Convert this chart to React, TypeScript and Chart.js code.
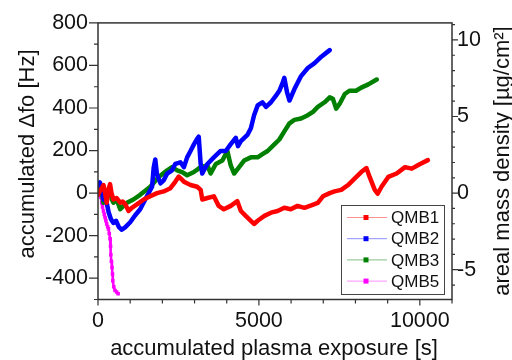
import React, { useEffect, useRef } from "react";
import { Chart, registerables } from "chart.js";

Chart.register(...registerables);

// ---------- data ----------
const QMB1_X = [0, 60, 115, 170, 220, 270, 330, 375, 420, 480, 580, 690, 770, 850, 950, 1050, 1210, 1420, 1625, 1835, 2040, 2250, 2400, 2510, 2600, 2670, 2875, 3080, 3190, 3240, 3400, 3600, 3750, 3910, 4125, 4330, 4440, 4590, 4750, 4850, 4960, 5170, 5375, 5580, 5790, 5990, 6200, 6415, 6625, 6830, 6990, 7200, 7350, 7560, 7770, 7980, 8180, 8340, 8440, 8600, 8690, 8810, 9020, 9280, 9540, 9750, 10010, 10250];
const QMB1_Y = [-8, 10, 23, 38, 0, -45, 20, 42, 0, -30, -23, -45, -40, -53, -84, -69, -53, -30, -15, 0, 8, 23, 53, 78, 65, 53, 38, 30, 15, -30, -23, -15, -60, -76, -60, -38, -84, -107, -130, -145, -130, -107, -92, -84, -69, -76, -60, -69, -58, -46, -15, 0, 8, 15, 38, 69, 99, 118, 76, 15, -3, 30, 76, 92, 122, 115, 137, 155];

const QMB2_X = [0, 60, 115, 170, 220, 270, 330, 400, 480, 560, 650, 740, 850, 1000, 1150, 1310, 1520, 1680, 1730, 1780, 1830, 1940, 2040, 2150, 2300, 2400, 2560, 2670, 2770, 2875, 2980, 3080, 3130, 3190, 3240, 3290, 3400, 3600, 3810, 3970, 4120, 4280, 4350, 4440, 4650, 4750, 4850, 4960, 5110, 5220, 5375, 5530, 5635, 5740, 5790, 5875, 5950, 6100, 6310, 6520, 6730, 6940, 7200];
const QMB2_Y = [38, 50, 20, -30, -10, -45, -90, -122, -140, -130, -160, -172, -160, -137, -105, -76, -15, 30, 120, 158, 90, 46, 60, 92, 107, 137, 145, 122, 168, 198, 229, 255, 265, 137, 92, 107, 137, 168, 198, 198, 229, 260, 221, 244, 275, 305, 366, 412, 427, 405, 427, 458, 481, 519, 542, 473, 435, 488, 550, 588, 611, 641, 672];

const QMB3_X = [0, 60, 115, 170, 220, 270, 330, 375, 430, 480, 580, 690, 790, 900, 1100, 1310, 1625, 1885, 2150, 2300, 2460, 2615, 2770, 2980, 3190, 3400, 3500, 3660, 3865, 4020, 4125, 4230, 4385, 4540, 4750, 4960, 5110, 5270, 5480, 5635, 5790, 5950, 6100, 6310, 6520, 6680, 6830, 7040, 7200, 7300, 7400, 7510, 7670, 7810, 8020, 8180, 8400, 8660];
const QMB3_Y = [23, 45, 10, -45, -10, 8, 15, 10, -30, -45, -30, -76, -60, -45, -30, -8, 30, 76, 107, 122, 107, 99, 84, 99, 122, 130, 92, 137, 153, 198, 130, 92, 122, 153, 168, 168, 183, 198, 229, 252, 290, 328, 344, 351, 366, 382, 405, 427, 450, 443, 397, 420, 466, 481, 481, 496, 511, 534];

const QMB5_X = [0, 30, 60, 90, 115, 140, 170, 195, 220, 245, 270, 300, 325, 350, 375, 390, 400, 415, 435, 450, 460, 490, 530, 580, 625];
const QMB5_Y = [0, -1, -3, -20, -45, -65, -84, -100, -115, -130, -145, -158, -168, -190, -214, -250, -290, -320, -350, -380, -412, -440, -458, -465, -473];

const SERIES_NAMES = ["QMB1", "QMB2", "QMB3", "QMB5"];
const SERIES_COLORS = ["#ff0000", "#0000ff", "#008000", "#ff00ff"];
const LEGEND_LINE_COLORS = ["#ff9090", "#8f8fff", "#80c080", "#ff90ff"];

const X_MIN = 0;
const X_MAX = 11000;
const X_LABEL_TICKS = [0, 5000, 10000];
const X_MINOR_TICKS = [1000, 2000, 3000, 4000, 6000, 7000, 8000, 9000, 11000];
const Y_MIN = -500;
const Y_MAX = 800;
const Y_LABEL_TICKS = [-400, -200, 0, 200, 400, 600, 800];
const Y_MINOR_TICKS = [-500, -300, -100, 100, 300, 500, 700];
const HZ_PER_UG_CM2 = 72;
const Y2_LABEL_TICKS = [-5, 0, 5, 10];
const Y2_MINOR_TICKS = [-6, -4, -3, -2, -1, 1, 2, 3, 4, 6, 7, 8, 9, 11];

const X_TITLE = "accumulated plasma exposure [s]";
const Y_TITLE = "accumulated \u0394fo [Hz]";
const Y2_TITLE = "areal mass density [\u00b5g/cm\u00b2]";

const FONT = "'Liberation Sans', Arial, sans-serif";
const AXIS_COLOR = "#333333";

const toPoints = (xs: number[], ys: number[]) => xs.map((x, i) => ({ x, y: ys[i] }));

export default function App() {
  const ref = useRef<HTMLCanvasElement | null>(null);

  useEffect(() => {
    const canvas = ref.current;
    if (!canvas) return;

    const decorPlugin = {
      id: "decor",
      afterDraw(chart: any) {
        const ctx = chart.ctx as CanvasRenderingContext2D;
        const a = chart.chartArea;
        const xs = chart.scales.x;
        const ys = chart.scales.y;
        const y2 = chart.scales.y2;
        ctx.save();
        // frame
        ctx.strokeStyle = AXIS_COLOR;
        ctx.lineWidth = 1.5;
        ctx.strokeRect(a.left, a.top, a.right - a.left, a.bottom - a.top);
        // ticks
        ctx.lineWidth = 1.2;
        ctx.beginPath();
        X_LABEL_TICKS.forEach((v) => {
          const px = xs.getPixelForValue(v);
          ctx.moveTo(px, a.bottom);
          ctx.lineTo(px, a.bottom + 6);
        });
        X_MINOR_TICKS.forEach((v) => {
          const px = xs.getPixelForValue(v);
          ctx.moveTo(px, a.bottom);
          ctx.lineTo(px, a.bottom + 4);
        });
        Y_LABEL_TICKS.forEach((v) => {
          const py = ys.getPixelForValue(v);
          ctx.moveTo(a.left, py);
          ctx.lineTo(a.left - 9, py);
        });
        Y_MINOR_TICKS.forEach((v) => {
          const py = ys.getPixelForValue(v);
          ctx.moveTo(a.left, py);
          ctx.lineTo(a.left - 4, py);
        });
        Y2_LABEL_TICKS.forEach((v) => {
          const py = y2.getPixelForValue(v);
          ctx.moveTo(a.right, py);
          ctx.lineTo(a.right + 6, py);
        });
        Y2_MINOR_TICKS.forEach((v) => {
          const py = y2.getPixelForValue(v);
          ctx.moveTo(a.right, py);
          ctx.lineTo(a.right + 3, py);
        });
        ctx.stroke();

        // titles
        ctx.fillStyle = "#111111";
        ctx.font = `22px ${FONT}`;
        ctx.textAlign = "center";
        ctx.textBaseline = "alphabetic";
        ctx.fillText(X_TITLE, 274, 355);
        ctx.save();
        ctx.translate(33.5, 154);
        ctx.rotate(-Math.PI / 2);
        ctx.fillText(Y_TITLE, 0, 0);
        ctx.restore();
        ctx.save();
        ctx.translate(509, 161);
        ctx.rotate(-Math.PI / 2);
        ctx.fillText(Y2_TITLE, 0, 0);
        ctx.restore();

        // legend
        const lx = 341, ly = 205, lw = 103, lh = 89;
        ctx.fillStyle = "#ffffff";
        ctx.fillRect(lx, ly, lw, lh);
        ctx.strokeStyle = "#444444";
        ctx.lineWidth = 1;
        ctx.strokeRect(lx + 0.5, ly + 0.5, lw, lh);
        ctx.font = `17px ${FONT}`;
        ctx.textAlign = "left";
        ctx.textBaseline = "middle";
        SERIES_NAMES.forEach((name, i) => {
          const ry = 217.5 + i * 21.2;
          ctx.strokeStyle = LEGEND_LINE_COLORS[i];
          ctx.lineWidth = 1;
          ctx.beginPath();
          ctx.moveTo(347, ry);
          ctx.lineTo(387, ry);
          ctx.stroke();
          ctx.fillStyle = SERIES_COLORS[i];
          ctx.fillRect(363.5, ry - 2.5, 5, 5);
          ctx.fillStyle = "#111111";
          ctx.fillText(name, 391, ry + 1);
        });
        ctx.restore();
      },
    };

    const mk = (i: number, xs: number[], ys: number[], extra: any = {}) => ({
      label: SERIES_NAMES[i],
      data: toPoints(xs, ys),
      borderColor: SERIES_COLORS[i],
      backgroundColor: SERIES_COLORS[i],
      borderWidth: 4.5,
      pointRadius: 0,
      tension: 0,
      borderJoinStyle: "round",
      borderCapStyle: "round",
      yAxisID: "y",
      ...extra,
    });

    const chart = new Chart(canvas, {
      type: "line",
      data: {
        datasets: [
          mk(0, QMB1_X, QMB1_Y),
          mk(1, QMB2_X, QMB2_Y),
          mk(2, QMB3_X, QMB3_Y),
          mk(3, QMB5_X, QMB5_Y, { borderWidth: 2.5, pointRadius: 2.5, pointStyle: "rect", pointBorderWidth: 0 }),
        ],
      },
      options: {
        animation: false,
        responsive: false,
        devicePixelRatio: 1,
        layout: { padding: { top: 15, left: 0, right: 0, bottom: 0 } },
        plugins: { legend: { display: false }, tooltip: { enabled: false } },
        scales: {
          x: {
            type: "linear",
            min: X_MIN,
            max: X_MAX,
            grid: { display: false, drawTicks: false },
            border: { display: false },
            afterBuildTicks: (s: any) => {
              s.ticks = X_LABEL_TICKS.map((v) => ({ value: v }));
            },
            afterFit: (s: any) => {
              s.height = 60.5;
            },
            ticks: {
              autoSkip: false,
              maxRotation: 0,
              padding: 9,
              color: "#111111",
              font: { family: FONT, size: 21.5 },
              callback: (v: any) => String(v),
            },
          },
          y: {
            type: "linear",
            position: "left",
            min: Y_MIN,
            max: Y_MAX,
            grid: { display: false, drawTicks: false },
            border: { display: false },
            afterBuildTicks: (s: any) => {
              s.ticks = Y_LABEL_TICKS.map((v) => ({ value: v }));
            },
            afterFit: (s: any) => {
              s.width = 98;
            },
            ticks: {
              autoSkip: false,
              padding: 10,
              color: "#111111",
              font: { family: FONT, size: 21.5 },
              callback: (v: any) => String(v),
            },
          },
          y2: {
            type: "linear",
            position: "right",
            min: Y_MIN / HZ_PER_UG_CM2,
            max: Y_MAX / HZ_PER_UG_CM2,
            grid: { display: false, drawTicks: false },
            border: { display: false },
            afterBuildTicks: (s: any) => {
              s.ticks = Y2_LABEL_TICKS.map((v) => ({ value: v }));
            },
            afterFit: (s: any) => {
              s.width = 60;
            },
            ticks: {
              autoSkip: false,
              padding: 5,
              color: "#111111",
              font: { family: FONT, size: 21.5 },
              callback: (v: any) => String(v),
            },
          },
        },
      },
      plugins: [decorPlugin],
    } as any);

    return () => chart.destroy();
  }, []);

  return (
    <div style={{ position: "fixed", left: 0, top: 0, width: 512, height: 360, background: "#ffffff" }}>
      <canvas ref={ref} width={512} height={360} style={{ display: "block" }} />
    </div>
  );
}
